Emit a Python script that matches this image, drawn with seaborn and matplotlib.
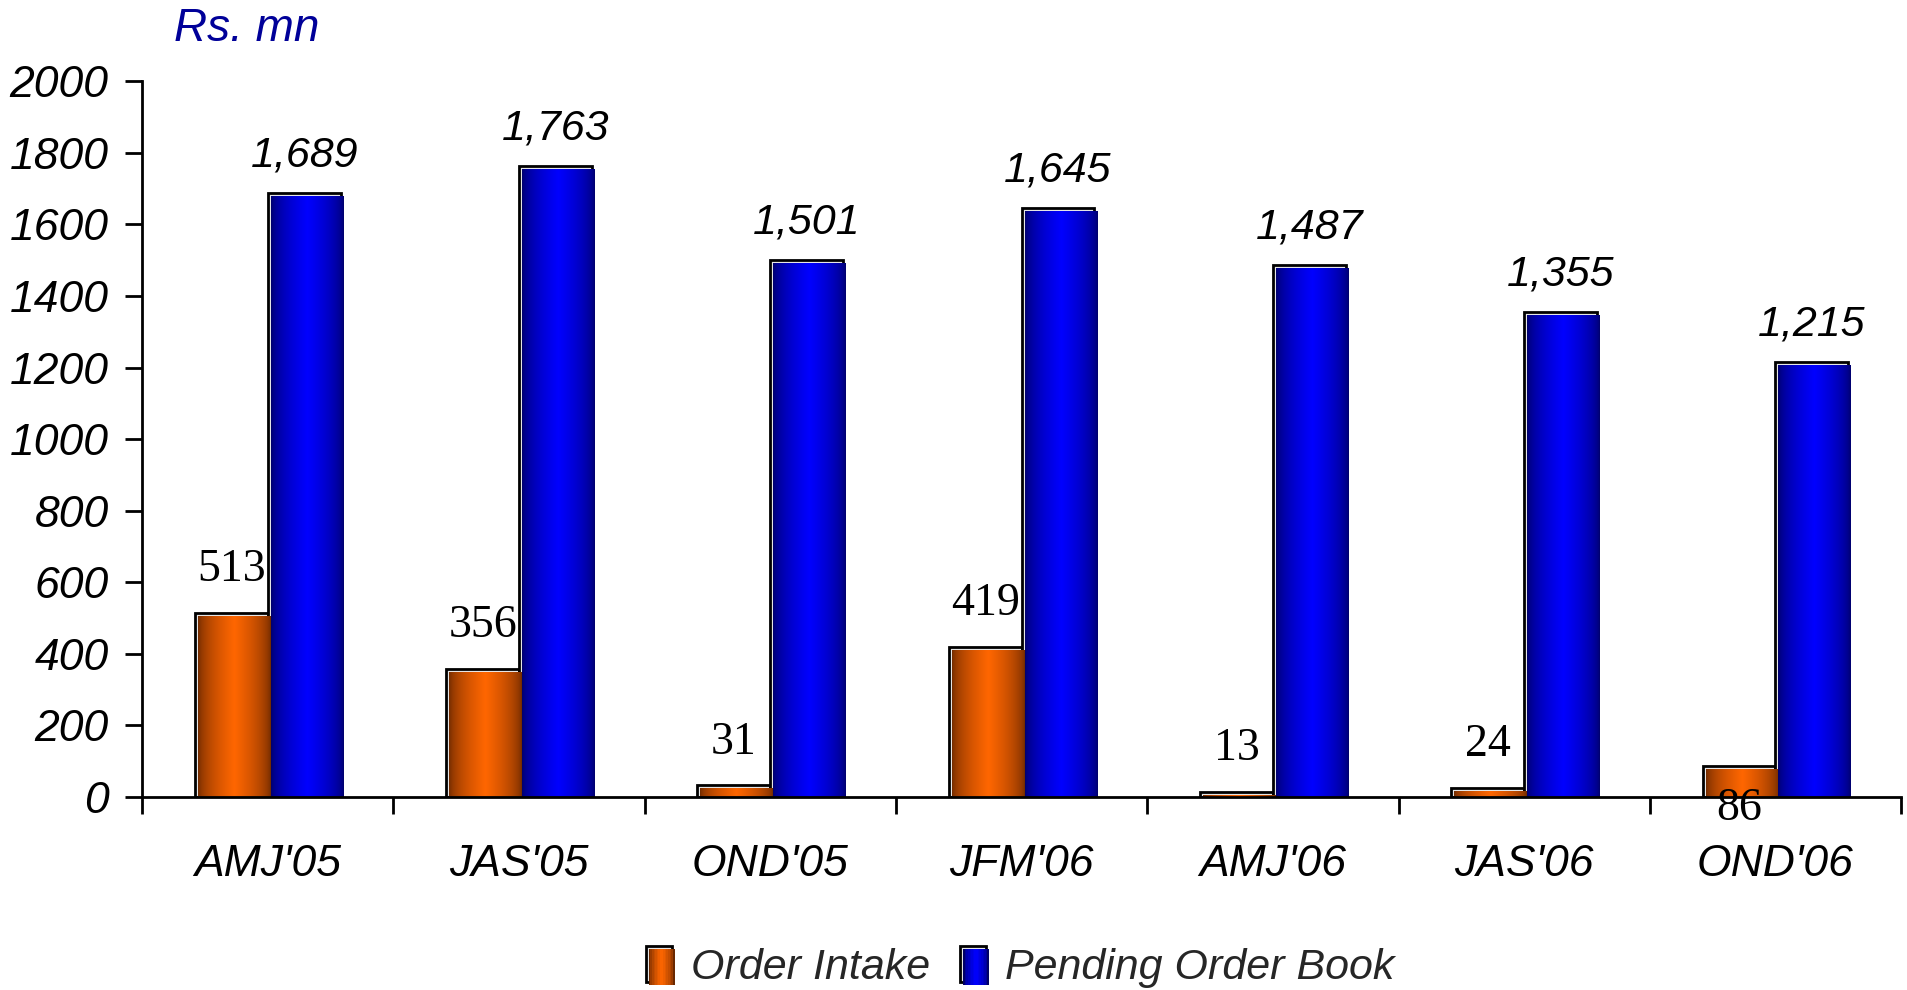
import numpy as np
import pandas as pd
import matplotlib
matplotlib.use("Agg")
import matplotlib.pyplot as plt
import matplotlib.transforms as mtransforms
from matplotlib.colors import to_rgb
from matplotlib.patches import Rectangle
from matplotlib.legend_handler import HandlerBase
from matplotlib.font_manager import FontProperties
import seaborn as sns

# Quarterly order data (Rs. mn)
quarters = ["AMJ'05", "JAS'05", "OND'05", "JFM'06", "AMJ'06", "JAS'06", "OND'06"]
order_intake = [513, 356, 31, 419, 13, 24, 86]
pending_order_book = [1689, 1763, 1501, 1645, 1487, 1355, 1215]
series_names = ["Order Intake", "Pending Order Book"]
y_ticks = [0, 200, 400, 600, 800, 1000, 1200, 1400, 1600, 1800, 2000]

df = pd.DataFrame({
    "Quarter": quarters * 2,
    "Series": [series_names[0]] * len(quarters) + [series_names[1]] * len(quarters),
    "Value": order_intake + pending_order_book,
})

bright = {"Order Intake": "#ff6600", "Pending Order Book": "#0000ff"}
dark = {"Order Intake": "#6a2800", "Pending Order Book": "#000066"}

sns.set_theme(style="white")
plt.rcParams["font.family"] = ["Liberation Sans", "DejaVu Sans"]

fig = plt.figure(figsize=(19.07, 9.9), dpi=100)
ax = fig.add_axes([0.0745, 0.1954, 0.9224, 0.7223])

sns.barplot(data=df, x="Quarter", y="Value", hue="Series", order=quarters,
            hue_order=series_names, palette=[bright[s] for s in series_names],
            width=0.58, dodge=True, saturation=1, errorbar=None,
            edgecolor="black", linewidth=2, legend=False, ax=ax)


def shade_profile(name, n=256):
    """Horizontal shading: dark edges, bright band in the middle."""
    c0 = np.array(to_rgb(dark[name]))
    c1 = np.array(to_rgb(bright[name]))
    t = np.linspace(0, 1, n)
    w = np.clip(1 - np.abs(t - 0.5) / 0.5, 0, 1) ** 0.55
    return c0[None, :] * (1 - w[:, None]) + c1[None, :] * w[:, None]


# Bevelled bars: outlined frame with the shaded body nudged down-right
shift = mtransforms.ScaledTranslation(3 / 100, -3 / 100, fig.dpi_scale_trans)
for name, container in zip(series_names, ax.containers):
    strip = shade_profile(name)[None, :, :]
    for bar in container:
        x0, y0 = bar.get_x(), bar.get_y()
        w, h = bar.get_width(), bar.get_height()
        bar.set_facecolor("#e6e6e6")
        bar.set_zorder(2)
        ax.imshow(strip, extent=(x0, x0 + w, y0, y0 + h), aspect="auto",
                  interpolation="bilinear", transform=ax.transData + shift,
                  zorder=2.5)

# Value labels
for i, bar in enumerate(ax.containers[0]):
    cx = bar.get_x() + bar.get_width() / 2
    top = bar.get_height()
    off = -31 if quarters[i] == "OND'06" else 31
    ax.annotate(f"{order_intake[i]}", xy=(cx, top), xytext=(0, off),
                textcoords="offset points", ha="center", va="center",
                fontsize=33, family=["Liberation Serif", "DejaVu Serif"],
                color="black", zorder=5)
for i, bar in enumerate(ax.containers[1]):
    cx = bar.get_x() + bar.get_width() / 2
    top = bar.get_height()
    ax.annotate(f"{pending_order_book[i]:,}", xy=(cx, top), xytext=(0, 27),
                textcoords="offset points", ha="center", va="center",
                fontsize=31, style="italic", color="black", zorder=5)

ax.set_xlim(-0.5, len(quarters) - 0.5)
ax.set_ylim(0, 2000)
ax.set_yticks(y_ticks)
ax.set_yticklabels([str(v) for v in y_ticks])
ax.set_xticks(range(len(quarters)))
ax.set_xticklabels(quarters)
ax.set_xticks(np.arange(-0.5, len(quarters)), minor=True)
ax.set_xlabel("")
ax.set_ylabel("")

ax.tick_params(axis="y", which="major", left=True, direction="out", length=12,
               width=2, color="black", labelsize=32, pad=12, labelcolor="black")
ax.tick_params(axis="x", which="major", bottom=True, length=0, labelsize=32,
               pad=34, labelcolor="black")
ax.tick_params(axis="x", which="minor", bottom=True, direction="out", length=12,
               width=2, color="black")
for lab in ax.get_yticklabels() + ax.get_xticklabels():
    lab.set_fontstyle("italic")

for side in ["top", "right"]:
    ax.spines[side].set_visible(False)
for side in ["left", "bottom"]:
    ax.spines[side].set_color("black")
    ax.spines[side].set_linewidth(2)
    ax.spines[side].set_zorder(4)


class BevelKeyHandler(HandlerBase):
    """Legend key drawn as a small bevelled, shaded box."""

    def __init__(self, name):
        super().__init__()
        self.name = name

    def create_artists(self, legend, orig_handle, xdescent, ydescent,
                       width, height, fontsize, trans):
        arts = []
        frame = Rectangle((-xdescent, -ydescent), width, height,
                          facecolor="#e6e6e6", edgecolor="black", linewidth=2,
                          transform=trans)
        arts.append(frame)
        prof = shade_profile(self.name, n=16)
        d = 3 * 72 / 100
        sw = width / len(prof)
        for k, col in enumerate(prof):
            arts.append(Rectangle((-xdescent + d + k * sw, -ydescent - d),
                                  sw * 1.05, height, facecolor=col,
                                  edgecolor="none", transform=trans))
        return arts


proxies = [Rectangle((0, 0), 1, 1) for _ in series_names]
fig.legend(proxies, series_names, loc="center", bbox_to_anchor=(0.535, 0.023),
           ncol=2, frameon=False, handlelength=0.6, handleheight=0.9,
           handletextpad=0.45, columnspacing=0.7,
           handler_map={p: BevelKeyHandler(s) for p, s in zip(proxies, series_names)},
           prop=FontProperties(family=["Liberation Sans Narrow", "Liberation Sans"],
                               style="italic", size=31))

fig.text(0.0912, 0.971, "Rs. mn", color="#000099", style="italic", fontsize=33,
         ha="left", va="center")

fig.savefig("out.png", dpi=100)
